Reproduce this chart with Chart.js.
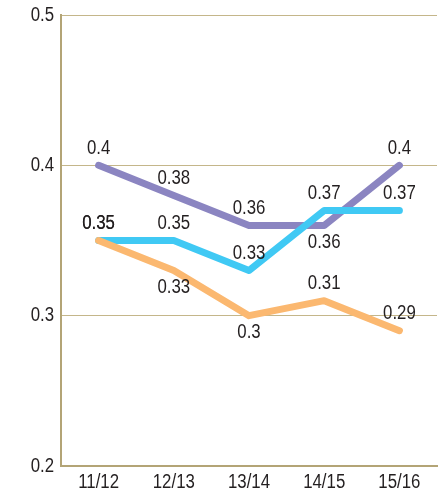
<!DOCTYPE html>
<html>
<head>
<meta charset="utf-8">
<script src="https://cdn.jsdelivr.net/npm/chart.js@4/dist/chart.umd.min.js"></script>
<style>
  html, body { margin: 0; padding: 0; background: #fff; }
  #wrap { width: 440px; height: 495px; }
</style>
</head>
<body>
<div id="wrap"><canvas id="chart"></canvas></div>
<script>
const seasons = ['11/12', '12/13', '13/14', '14/15', '15/16']
const purpleValues = [0.4, 0.38, 0.36, 0.36, 0.4]
const blueValues = [0.35, 0.35, 0.33, 0.37, 0.37]
const orangeValues = [0.35, 0.33, 0.3, 0.31, 0.29]
const yTicks = [0.2, 0.3, 0.4, 0.5]

// where each value label sits relative to its point
const purpleLabelPos = ['top', 'top', 'top', 'bottom', 'top']
const blueLabelPos = ['top', 'top', 'top', 'top', 'top']
const orangeLabelPos = ['top', 'bottom', 'bottom', 'top', 'top']

const FONT = '"Liberation Sans", Arial, sans-serif'
const TEXT = '#231f20'
const ctx = document.querySelector('#chart').getContext('2d')

// condensed text: squeeze a regular face horizontally
const squeezedText = (c, str, x, y, align) => {
  c.save()
  c.translate(x, y)
  c.scale(0.82, 1)
  c.textAlign = align
  c.fillText(str, 0, 0)
  c.restore()
}

// Draw value labels and axis labels
const textLayer = {
  id: 'textLayer',
  afterDatasetsDraw (chart) {
    const c = chart.ctx
    c.save()
    c.font = '20.5px ' + FONT
    c.fillStyle = TEXT
    c.textBaseline = 'middle'

    chart.data.datasets.forEach((ds, i) => {
      const meta = chart.getDatasetMeta(i)
      meta.data.forEach((pt, j) => {
        const dy = ds.labelPos[j] === 'top' ? -17 : 17
        squeezedText(c, String(ds.data[j]), pt.x, pt.y + dy, 'center')
      })
    })

    const { x, y } = chart.scales
    yTicks.forEach(v => {
      squeezedText(c, String(v), x.left - 7, y.getPixelForValue(v), 'right')
    })
    seasons.forEach((s, i) => {
      squeezedText(c, s, x.getPixelForTick(i), y.bottom + 16, 'center')
    })
    c.restore()
  }
}

const line = (data, color, labelPos) => ({
  data,
  labelPos,
  borderColor: color,
  backgroundColor: color,
  borderWidth: 7,
  borderCapStyle: 'round',
  borderJoinStyle: 'round',
  pointRadius: 0,
  tension: 0
})

new Chart(ctx, {
  type: 'line',
  data: {
    labels: seasons,
    // first dataset ends up on top
    datasets: [
      line(orangeValues, '#fbb870', orangeLabelPos),
      line(blueValues, '#40c9f4', blueLabelPos),
      line(purpleValues, '#8b85c1', purpleLabelPos)
    ]
  },
  options: {
    responsive: true,
    maintainAspectRatio: false,
    animation: false,
    layout: { padding: { top: 15, right: 3, left: 0, bottom: 0 } },
    plugins: {
      legend: { display: false },
      tooltip: { enabled: false }
    },
    scales: {
      x: {
        offset: true,
        grid: { display: false, drawTicks: false },
        border: { display: true, color: '#b3a476', width: 2 },
        ticks: { color: 'transparent', font: { family: FONT, size: 19 } },
        afterFit: scale => { scale.height = 29 }
      },
      y: {
        min: 0.2,
        max: 0.5,
        afterBuildTicks: scale => { scale.ticks = yTicks.map(v => ({ value: v })) },
        grid: { color: '#c4b68a', lineWidth: 1, drawTicks: false },
        border: { display: true, color: '#b3a476', width: 2 },
        ticks: { color: 'transparent', font: { family: FONT, size: 19 } },
        afterFit: scale => { scale.width = 61 }
      }
    }
  },
  plugins: [textLayer]
})
</script>
</body>
</html>
